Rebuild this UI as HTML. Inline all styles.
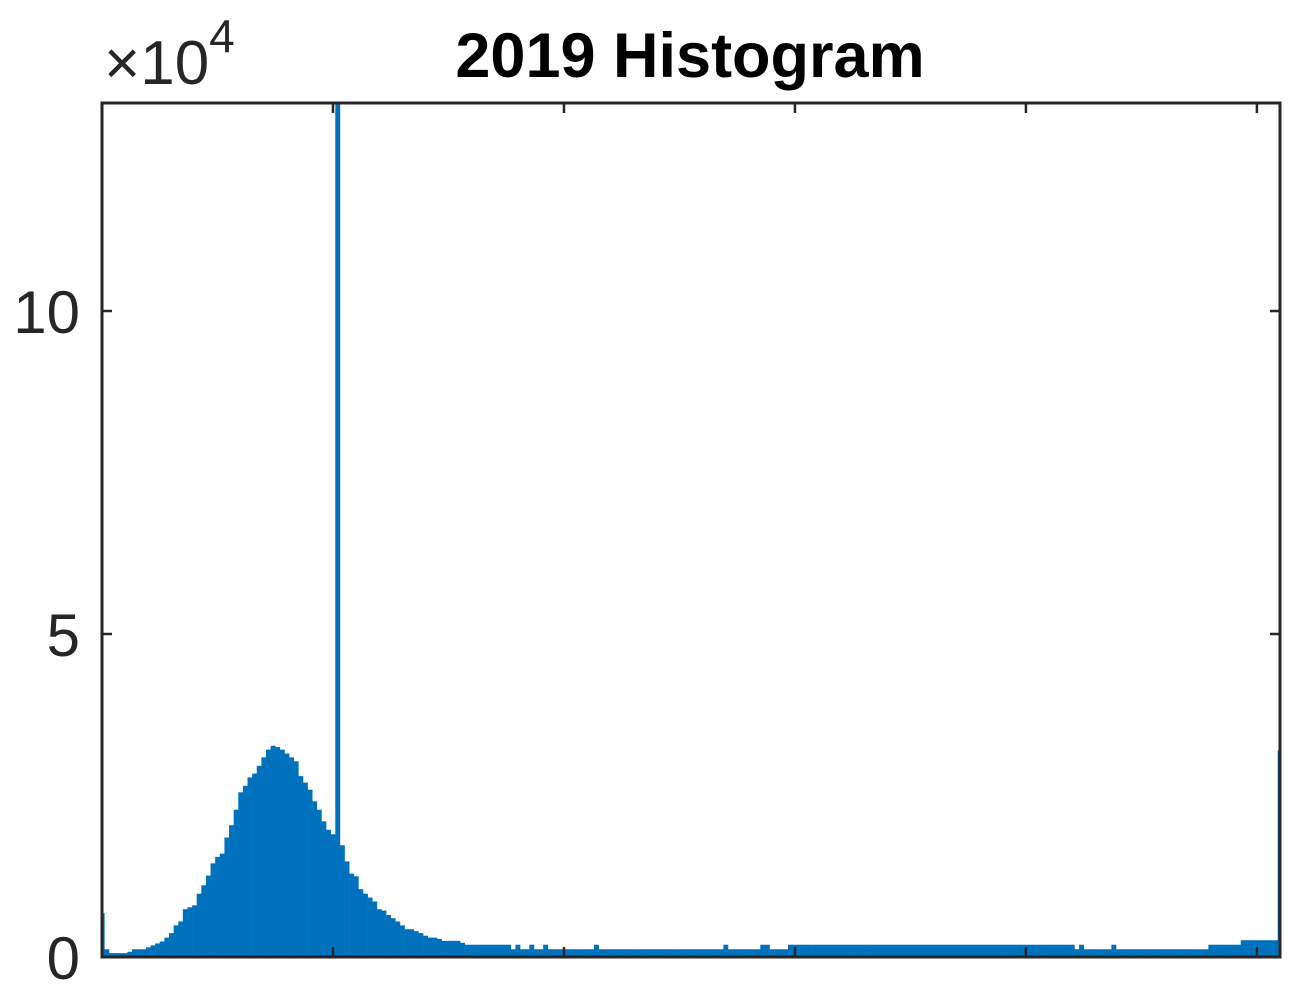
<!DOCTYPE html>
<html><head><meta charset="utf-8"><style>
html,body{margin:0;padding:0;background:#fff;}
svg{display:block;font-family:"Liberation Sans",sans-serif;}
</style></head><body>
<svg id="chart" width="1310" height="1008" viewBox="0 0 1310 1008" xmlns="http://www.w3.org/2000/svg">
<defs><clipPath id="plotclip"><rect x="102" y="103" width="1178" height="854"/></clipPath></defs>
<rect x="0" y="0" width="1310" height="1008" fill="#fff"/>
<text x="690" y="77" text-anchor="middle" font-size="63" font-weight="bold" fill="#000">2019 Histogram</text>
<g id="bars" clip-path="url(#plotclip)"></g>
<g id="axes"></g>
<text x="104" y="84" font-size="62" fill="#262626">×10<tspan dy="-32" font-size="46">4</tspan></text>
</svg>
<script>
// counts in units of 10^4, bins 0..255
const binValues = [
0.68,0.12,0.06,0.06,0.06,0.06,0.08,0.12,0.12,0.12,
0.15,0.18,0.21,0.24,0.30,0.37,0.49,0.55,0.74,0.77,
0.80,0.98,1.11,1.26,1.45,1.55,1.60,1.85,2.04,2.28,
2.55,2.65,2.78,2.84,2.96,3.09,3.21,3.27,3.25,3.21,
3.15,3.09,3.03,2.80,2.70,2.59,2.41,2.28,2.10,1.97,
1.90,14.0,1.73,1.48,1.29,1.25,1.05,0.98,0.92,0.86,
0.74,0.72,0.65,0.60,0.55,0.49,0.43,0.43,0.40,0.37,
0.33,0.30,0.30,0.28,0.25,0.25,0.25,0.25,0.22,0.19,
0.19,0.19,0.19,0.19,0.19,0.19,0.19,0.19,0.19,0.12,
0.19,0.12,0.12,0.19,0.12,0.12,0.19,0.12,0.12,0.12,
0.12,0.12,0.12,0.12,0.12,0.12,0.12,0.19,0.12,0.12,
0.12,0.12,0.12,0.12,0.12,0.12,0.12,0.12,0.12,0.12,
0.12,0.12,0.12,0.12,0.12,0.12,0.12,0.12,0.12,0.12,
0.12,0.12,0.12,0.12,0.12,0.19,0.12,0.12,0.12,0.12,
0.12,0.12,0.12,0.19,0.19,0.12,0.12,0.12,0.12,0.19,
0.19,0.19,0.19,0.19,0.19,0.19,0.19,0.19,0.19,0.19,
0.19,0.19,0.19,0.19,0.19,0.19,0.19,0.19,0.19,0.19,
0.19,0.19,0.19,0.19,0.19,0.19,0.19,0.19,0.19,0.19,
0.19,0.19,0.19,0.19,0.19,0.19,0.19,0.19,0.19,0.19,
0.19,0.19,0.19,0.19,0.19,0.19,0.19,0.19,0.19,0.19,
0.19,0.19,0.19,0.19,0.19,0.19,0.19,0.19,0.19,0.19,
0.19,0.12,0.19,0.12,0.12,0.12,0.12,0.12,0.12,0.19,
0.12,0.12,0.12,0.12,0.12,0.12,0.12,0.12,0.12,0.12,
0.12,0.12,0.12,0.12,0.12,0.12,0.12,0.12,0.12,0.12,
0.19,0.19,0.19,0.19,0.19,0.19,0.19,0.26,0.26,0.26,
0.26,0.26,0.26,0.26,0.26,3.20
];
const yTickValues = [0, 5, 10];
const yTickLabels = ["0", "5", "10"];
const xTickValues = [50, 100, 150, 200, 250];

const PL = 102, PR = 1280, PT = 103, PB = 957;
const xMin = 0, xMax = 255, yMin = 0, yMax = 13.22;
function xs(v){ return PL + (v - xMin) / (xMax - xMin) * (PR - PL); }
function ys(v){ return PB - (v - yMin) / (yMax - yMin) * (PB - PT); }
const NS = "http://www.w3.org/2000/svg";
const barsG = document.getElementById('bars');
const axesG = document.getElementById('axes');
const pitch = xs(1) - xs(0);
binValues.forEach((v, i) => {
  const r = document.createElementNS(NS, 'rect');
  const top = ys(v);
  r.setAttribute('x', xs(i) - pitch / 2);
  r.setAttribute('y', top);
  r.setAttribute('width', pitch + 0.3);
  r.setAttribute('height', PB - top);
  r.setAttribute('fill', '#0072BD');
  
  
  barsG.appendChild(r);
});
function line(x1, y1, x2, y2, name, w){
  const l = document.createElementNS(NS, 'line');
  l.setAttribute('x1', x1); l.setAttribute('y1', y1);
  l.setAttribute('x2', x2); l.setAttribute('y2', y2);
  l.setAttribute('stroke', '#262626');
  l.setAttribute('stroke-width', w || 2.5);
  
  
  axesG.appendChild(l);
}
const box = document.createElementNS(NS, 'rect');
box.setAttribute('x', PL); box.setAttribute('y', PT);
box.setAttribute('width', PR - PL); box.setAttribute('height', PB - PT);
box.setAttribute('fill', 'none'); box.setAttribute('stroke', '#262626');
box.setAttribute('stroke-width', 3);


axesG.appendChild(box);
yTickValues.forEach((v, i) => {
  const y = ys(v);
  line(PL, y, PL + 10, y, 'y-tick-left');
  line(PR - 10, y, PR, y, 'y-tick-right');
  const t = document.createElementNS(NS, 'text');
  t.setAttribute('x', 80); t.setAttribute('y', y + 22);
  t.setAttribute('text-anchor', 'end');
  t.setAttribute('font-size', '60');
  t.setAttribute('fill', '#262626');
  
  
  t.textContent = yTickLabels[i];
  axesG.appendChild(t);
});
xTickValues.forEach(v => {
  const x = xs(v);
  line(x, PB, x, PB - 10, 'x-tick-bottom');
  line(x, PT, x, PT + 10, 'x-tick-top');
});
</script>
</body></html>
